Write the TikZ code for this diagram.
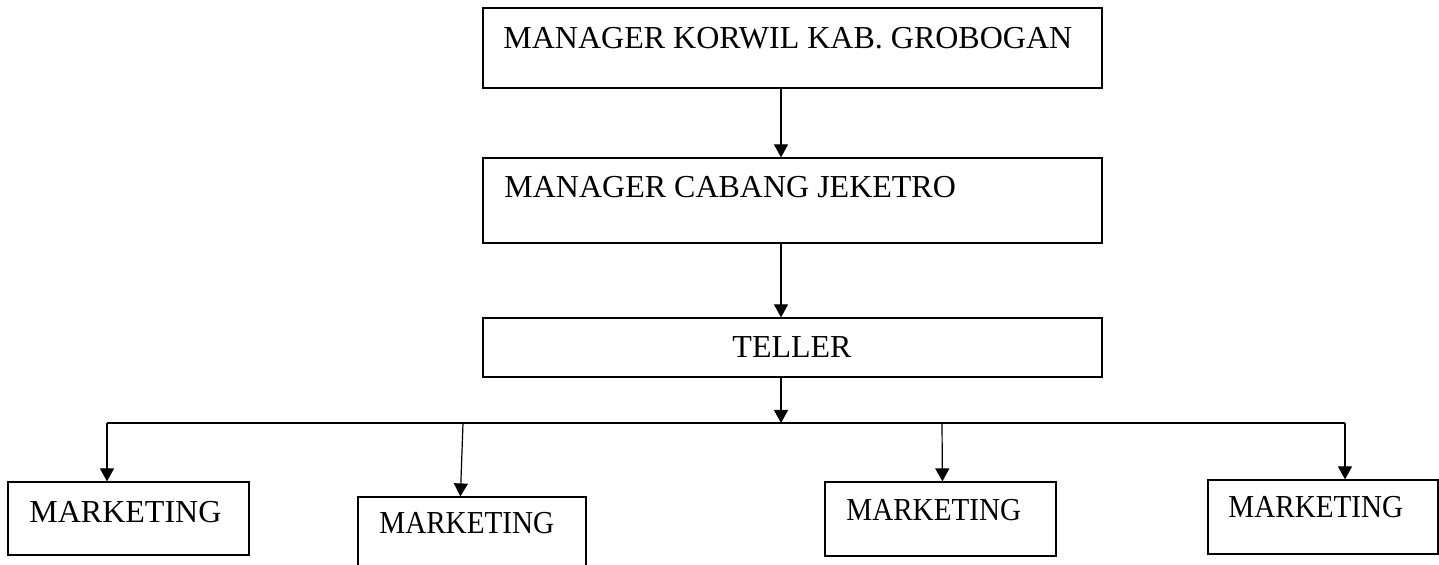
\documentclass[tikz,border=0pt]{standalone}
\usepackage{fontspec}
\setmainfont{Liberation Serif}
\newfontfamily\narrowfont{Liberation Serif}[FakeStretch=0.91]
\usetikzlibrary{arrows.meta,fit,calc}
\tikzset{
  boxnode/.style={draw=black, line width=0.6pt, inner sep=0pt, fit={#1}},
  label/.style={inner sep=0pt, anchor=base west, font=\fontsize{16pt}{19pt}\selectfont},
  narrowlabel/.style={inner sep=0pt, anchor=base west, font=\fontsize{16pt}{19pt}\selectfont\narrowfont},
  conn/.style={draw=black, line width=0.6pt},
  arr/.style={conn, -{Triangle[width=7pt,length=6.5pt]}}
}
\begin{document}
\begin{tikzpicture}[x=0.5pt, y=-0.5pt]
\path[use as bounding box, clip] (0,0) rectangle (1439,565);

% upper boxes
\node[boxnode={(483,8) (1102,88)}] (korwil) {};
\node[label] (korwilt) at (503,49) {MANAGER KORWIL KAB. GROBOGAN};
\node[boxnode={(483,158) (1102,243)}] (cabang) {};
\node[label] (cabangt) at (504,198) {MANAGER CABANG JEKETRO};
\node[boxnode={(483,318) (1102,377)}] (teller) {};
\node[label, anchor=base] (tellert) at (792,358) {TELLER};

% marketing boxes
\node[boxnode={(8,482) (249,555)}] (m1) {};
\node[label] (m1t) at (29,523) {MARKETING};
\node[boxnode={(358,497) (586,600)}] (m2) {};
\node[narrowlabel] (m2t) at (379,534) {MARKETING};
\node[boxnode={(825,482) (1056,556)}] (m3) {};
\node[narrowlabel] (m3t) at (846,521) {MARKETING};
\node[boxnode={(1208,480) (1438,554)}] (m4) {};
\node[narrowlabel] (m4t) at (1228,518) {MARKETING};

% hub line
\coordinate (hub) at (781,423);
\coordinate (hl) at (107,423);
\coordinate (hr) at (1345,423);
\coordinate (h2) at (463,423);
\coordinate (h3) at (942,423);

\draw[arr] (korwil.south -| hub) -- (cabang.north -| hub);
\draw[arr] (cabang.south -| hub) -- (teller.north -| hub);
\draw[arr] (teller.south -| hub) -- (hub);
\draw[conn] (hl) -- (hr);
\draw[arr] (hl) -- (m1.north -| hl);
\draw[arr] (h2) -- ($(m2.north west)+(103,0)$);
\draw[arr] (h3) -- ($(m3.north west)+(118,0)$);
\draw[arr] (hr) -- (m4.north -| hr);
\end{tikzpicture}
\end{document}
